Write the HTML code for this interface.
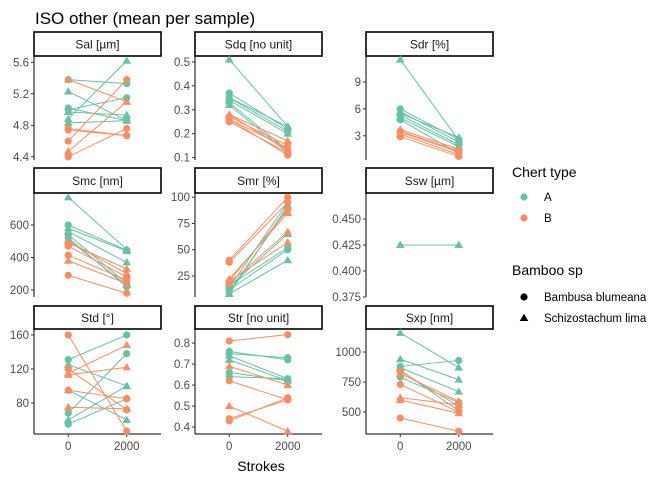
<!DOCTYPE html>
<html><head><meta charset="utf-8"><style>
body{margin:0;background:#fff}
svg text{font-family:"Liberation Sans",sans-serif}
</style></head><body>
<svg id="chart" width="672" height="480" viewBox="0 0 672 480"></svg>
<script>
const strokesX = [0, 2000];
const xTicks = [0, 2000];
const panelNames = ["Sal [µm]","Sdq [no unit]","Sdr [%]","Smc [nm]","Smr [%]","Ssw [µm]","Std [°]","Str [no unit]","Sxp [nm]"];
const salStart = [5.38,5.23,5.0,4.97,4.88,4.83,5.02, 5.38,4.76,4.74,4.6,4.47,4.4];
const salEnd   = [5.33,4.86,5.15,4.93,5.62,4.86,4.86, 5.1,4.67,4.67,5.38,5.1,4.76];
const salChert = ["A","A","A","A","A","A","A","B","B","B","B","B","B"];
const salShape = ["c","t","c","t","t","t","c","t","c","c","c","t","c"];
const sdqStart = [0.51,0.37,0.35,0.34,0.33,0.32,0.35, 0.28,0.27,0.26,0.25,0.26,0.28];
const sdqEnd   = [0.23,0.22,0.21,0.2,0.13,0.12,0.23, 0.17,0.15,0.14,0.12,0.11,0.13];
const sdqChert = ["A","A","A","A","A","A","A","B","B","B","B","B","B"];
const sdqShape = ["t","c","c","t","c","t","t","t","c","t","c","c","t"];
const sdrStart = [11.5,6,5.7,5.3,5,4.8,5.5, 3.7,3.4,3.2,2.9,3.5];
const sdrEnd   = [2.5,2.6,2.3,2,1.8,1,2.8, 1.5,1.2,0.9,0.7,1.3];
const sdrChert = ["A","A","A","A","A","A","A","B","B","B","B","B"];
const sdrShape = ["t","c","t","c","t","c","t","t","c","t","c","c"];
const smcStart = [770,600,580,560,520,540,510, 490,470,415,380,290,500];
const smcEnd   = [450,445,440,370,220,240,230, 330,280,260,240,180,300];
const smcChert = ["A","A","A","A","A","A","A","B","B","B","B","B","B"];
const smcShape = ["t","c","t","t","c","c","t","t","c","c","t","c","t"];
const smrStart = [8,14,12,8,15,16,10, 40,20,22,18,20,38];
const smrEnd   = [92,95,50,40,65,52,90, 100,88,85,67,57,95];
const smrChert = ["A","A","A","A","A","A","A","B","B","B","B","B","B"];
const smrShape = ["t","c","c","t","t","c","c","c","c","t","t","t","c"];
const sswStart = [0.425,0.425];
const sswEnd   = [0.425,0.425];
const sswChert = ["B","A"];
const sswShape = ["t","t"];
const stdStart = [131,125,95,68,60,55, 160,120,115,113,95,75];
const stdEnd   = [160,100,60,138,100,85, 47,72,148,122,85,73];
const stdChert = ["A","A","A","A","A","A","B","B","B","B","B","B"];
const stdShape = ["c","t","t","c","t","c","c","c","t","t","c","t"];
const strStart = [0.76,0.75,0.74,0.72,0.66,0.64, 0.81,0.69,0.62,0.5,0.43,0.44];
const strEnd   = [0.72,0.73,0.63,0.62,0.62,0.63, 0.84,0.6,0.53,0.38,0.54,0.53];
const strChert = ["A","A","A","A","A","A","B","B","B","B","B","B"];
const strShape = ["c","c","t","t","c","c","c","t","c","t","c","c"];
const sxpStart = [1160,940,880,870,790,850, 840,820,730,620,600,450];
const sxpEnd   = [870,770,930,670,580,510, 550,590,500,560,490,340];
const sxpChert = ["A","A","A","A","A","A","B","B","B","B","B","B"];
const sxpShape = ["t","t","c","t","c","c","c","t","c","t","t","c"];

const yTicks = [[4.4,4.8,5.2,5.6],[0.1,0.2,0.3,0.4,0.5],[3,6,9],[200,400,600],[25,50,75,100],[0.375,0.4,0.425,0.45],[80,120,160],[0.4,0.5,0.6,0.7,0.8],[500,750,1000]];
const yTickFmt = [v=>v.toFixed(1),v=>v.toFixed(1),v=>String(v),v=>String(v),v=>String(v),v=>v.toFixed(3),v=>String(v),v=>v.toFixed(1),v=>String(v)];
const yDomains = [[4.36,5.68],[0.09,0.525],[0.3,11.9],[157,797],[5,104],[0.375,0.475],[43.5,167],[0.367,0.867],[317,1192]];
const starts=[salStart,sdqStart,sdrStart,smcStart,smrStart,sswStart,stdStart,strStart,sxpStart];
const ends=[salEnd,sdqEnd,sdrEnd,smcEnd,smrEnd,sswEnd,stdEnd,strEnd,sxpEnd];
const cherts=[salChert,sdqChert,sdrChert,smcChert,smrChert,sswChert,stdChert,strChert,sxpChert];
const shapes=[salShape,sdqShape,sdrShape,smcShape,smrShape,sswShape,stdShape,strShape,sxpShape];

const colors={A:"#66c2a5",B:"#fc8d62"};
const colX=[34,195,366], pw=127;
const rowStrip=[[32,56,160],[168,193,297],[306,329,434]];
const svg=document.getElementById('chart');
const NS="http://www.w3.org/2000/svg";
function mk(tag,attrs,parent){const e=document.createElementNS(NS,tag);for(const k in attrs)e.setAttribute(k,attrs[k]);(parent||svg).appendChild(e);return e;}
function txt(s,attrs,parent){const e=mk('text',attrs,parent);e.textContent=s;return e;}
function shapeAt(g,x,y,sh,c){
  if(sh==="c") return mk('circle',{cx:x,cy:y,r:3.6,fill:c},g);
  return mk('polygon',{points:`${x},${y-4.3} ${x-4.3},${y+3} ${x+4.3},${y+3}`,fill:c},g);
}
const t=txt("ISO other (mean per sample)",{x:35,y:24,"font-size":17,fill:"#000"});



for(let p=0;p<9;p++){
  const col=p%3,row=Math.floor(p/3);
  const x0=colX[col],[sTop,pTop,pBot]=rowStrip[row];
  const xs=v=>x0+(v+1172)/(4344)*pw;
  const [d0,d1]=yDomains[p];
  const ys=v=>pBot-(v-d0)/(d1-d0)*(pBot-pTop);
  const g=mk('g',{});
  
  
  const strip=mk('rect',{x:x0,y:sTop,width:pw,height:pTop-sTop,fill:"#fff",stroke:"#000","stroke-width":1.6},g);
  
  
  txt(panelNames[p],{x:x0+pw/2,y:(sTop+pTop)/2+4.5,"text-anchor":"middle","font-size":12,fill:"#1a1a1a"},g);
  mk('line',{x1:x0,y1:pTop,x2:x0,y2:pBot,stroke:"#000","stroke-width":1},g);
  yTicks[p].forEach(v=>{const y=ys(v);
    mk('line',{x1:x0-3,y1:y,x2:x0,y2:y,stroke:"#333"},g);
    txt(yTickFmt[p](v),{x:x0-5,y:y+4,"text-anchor":"end","font-size":11.5,fill:"#4d4d4d"},g);});
  if(row===2){
    mk('line',{x1:x0,y1:pBot,x2:x0+pw,y2:pBot,stroke:"#000"},g);
    xTicks.forEach(v=>{const x=xs(v);mk('line',{x1:x,y1:pBot,x2:x,y2:pBot+3,stroke:"#333"},g);
      txt(String(v),{x:x,y:pBot+16,"text-anchor":"middle","font-size":11.5,fill:"#4d4d4d"},g);});
  }
  const s=starts[p],e=ends[p];
  for(let i=0;i<s.length;i++){
    const c=colors[cherts[p][i]];
    const ln=mk('line',{x1:xs(strokesX[0]),y1:ys(s[i]),x2:xs(strokesX[1]),y2:ys(e[i]),stroke:c,"stroke-width":1},g);
    
    
  }
  for(let i=0;i<s.length;i++){
    const c=colors[cherts[p][i]];
    const a=shapeAt(g,xs(strokesX[0]),ys(s[i]),shapes[p][i],c);
    
    
    const b=shapeAt(g,xs(strokesX[1]),ys(e[i]),shapes[p][i],c);
    
    
  }
}
const xl=txt("Strokes",{x:261,y:471,"text-anchor":"middle","font-size":14,fill:"#000"});



const lg=mk('g',{});


txt("Chert type",{x:512,y:177,"font-size":14,fill:"#000"},lg);
[["A",197],["B",218]].forEach(([k,y])=>{
  const c=mk('circle',{cx:524,cy:y,r:3.6,fill:colors[k]},lg);
  
  
  txt(k,{x:544,y:y+4,"font-size":11.5,fill:"#000"},lg);});
txt("Bamboo sp",{x:512,y:275,"font-size":14,fill:"#000"},lg);
const b1=mk('circle',{cx:524,cy:297,r:3.6,fill:"#000"},lg);


txt("Bambusa blumeana",{x:544,y:301,"font-size":11.5,fill:"#000"},lg);
const b2=shapeAt(lg,524,318,"t","#000");


txt("Schizostachum lima",{x:544,y:322,"font-size":11.5,fill:"#000"},lg);
</script>
</body></html>
